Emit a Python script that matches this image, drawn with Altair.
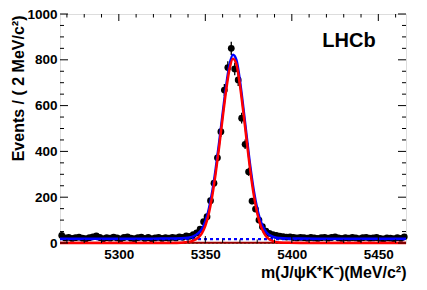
import altair as alt
import pandas as pd

# ---- data ----
bin_centers = list(range(5267, 5466, 2))  # 2 MeV bins
counts = [33, 22, 25, 20, 23, 26, 21, 19, 23, 27,
          31, 24, 19, 23, 21, 26, 22, 18, 24, 27,
          21, 19, 23, 26, 20, 24, 19, 22, 25, 20,
          23, 21, 25, 22, 27, 25, 31, 29, 36, 44,
          60, 93, 115, 185, 261, 372, 486, 668, 766, 850,
          760, 712, 545, 431, 311, 183, 148, 100, 71, 52,
          42, 36, 33, 30, 28, 26, 27, 24, 22, 25,
          23, 21, 24, 22, 20, 23, 25, 21, 24, 27,
          22, 20, 23, 21, 24, 22, 19, 23, 25, 21,
          22, 24, 20, 18, 22, 21, 19, 23, 20, 27]

sig_mass = [5266, 5320, 5330, 5336, 5340, 5343, 5346, 5348, 5350, 5352, 5354, 5356, 5358,
            5360, 5362, 5364, 5366, 5368, 5370, 5372, 5374, 5376, 5378, 5380, 5382,
            5384, 5386, 5388, 5390, 5393, 5398, 5405, 5420, 5466]
sig_val = [0, 0.1, 0.5, 1.5, 4, 10, 24, 42, 75, 128, 205, 305, 420,
           545, 665, 760, 805, 780, 690, 570, 440, 315, 210, 130, 76,
           42, 22, 12, 6, 2.5, 0.8, 0.2, 0, 0]
tot_val = [19, 19.1, 19.5, 20.5, 23, 29, 43, 61, 94, 147, 224, 324, 439,
           564, 684, 779, 822, 799, 709, 589, 459, 334, 229, 149, 95,
           61, 41, 31, 25, 21.5, 19.8, 19.2, 19, 19]

bkg_mass = [5266, 5466]
comb_bkg = [17, 17]
refl_bkg = [1.2, 1.2]
other_bkg = [0.2, 0.2]

x_major = [5300, 5350, 5400, 5450]
x_minor = [5270, 5280, 5290, 5310, 5320, 5330, 5340, 5360, 5370, 5380, 5390,
           5410, 5420, 5430, 5440, 5460]
y_major = [0, 200, 400, 600, 800, 1000]
y_minor = [50, 100, 150, 250, 300, 350, 450, 500, 550, 650, 700, 750, 850, 900, 950]

W, H = 346, 229
FONT = "Liberation Sans, Arial, Helvetica, sans-serif"

xs = alt.Scale(domain=[5266, 5466], nice=False, zero=False)
ys = alt.Scale(domain=[0, 1000], nice=False)

df = pd.DataFrame({"m": bin_centers, "n": counts})
sig = pd.DataFrame({"m": sig_mass, "v": sig_val})
tot = pd.DataFrame({"m": sig_mass, "v": tot_val})
bkg = pd.DataFrame({"m": bkg_mass, "comb": comb_bkg, "refl": refl_bkg, "oth": other_bkg})

xaxis = alt.Axis(values=x_major, format="d", ticks=False, domain=False, grid=False,
                 labelFont=FONT, labelFontSize=13.5, labelFontWeight="bold", labelColor="black",
                 labelPadding=4, title="m(J/ψK⁺K⁻)(MeV/c²)", titleFont=FONT,
                 titleFontSize=16, titleFontWeight="bold", titleColor="black",
                 titleAlign="right", titleAnchor="end", titleX=W, titleY=29,
                 titleBaseline="middle")
yaxis = alt.Axis(values=y_major, format="d", ticks=False, domain=False, grid=False,
                 labelFont=FONT, labelFontSize=13.5, labelFontWeight="bold", labelColor="black",
                 labelPadding=3, labelBaseline="middle",
                 title="Events / ( 2 MeV/c²)", titleFont=FONT,
                 titleFontSize=16, titleFontWeight="bold", titleColor="black",
                 titleAngle=270, titleAlign="right", titleX=-42, titleY=1,
                 titleBaseline="middle")

base = alt.Chart(df)
errbars = base.transform_calculate(
    lo="datum.n - sqrt(datum.n)", hi="datum.n + sqrt(datum.n)"
).mark_rule(color="black", strokeWidth=1.3).encode(
    x=alt.X("m:Q", scale=xs, axis=xaxis),
    y=alt.Y("lo:Q", scale=ys, axis=yaxis),
    y2="hi:Q",
)
points = base.mark_circle(color="black", size=46, opacity=1).encode(
    x=alt.X("m:Q", scale=xs), y=alt.Y("n:Q", scale=ys)
)

bk = alt.Chart(bkg)
comb_line = bk.mark_line(color="#0000ff", strokeWidth=2.4, strokeDash=[3, 3]).encode(
    x=alt.X("m:Q", scale=xs), y=alt.Y("comb:Q", scale=ys))
oth_line = bk.mark_line(color="#2a9d8f", strokeWidth=2, strokeDash=[2, 2]).encode(
    x=alt.X("m:Q", scale=xs), y=alt.Y("oth:Q", scale=ys))
refl_line = bk.mark_line(color="#990000", strokeWidth=2).encode(
    x=alt.X("m:Q", scale=xs), y=alt.Y("refl:Q", scale=ys))

tot_line = alt.Chart(tot).mark_line(color="#0000ff", strokeWidth=2.5, interpolate="monotone").encode(
    x=alt.X("m:Q", scale=xs), y=alt.Y("v:Q", scale=ys))
sig_line = alt.Chart(sig).mark_line(color="#ff0000", strokeWidth=2.5, interpolate="monotone").encode(
    x=alt.X("m:Q", scale=xs), y=alt.Y("v:Q", scale=ys))

def xticks(vals, length):
    d = alt.Chart(pd.DataFrame({"t": vals}))
    bot = d.mark_rule(color="black", strokeWidth=1).encode(
        x=alt.X("t:Q", scale=xs), y=alt.value(H), y2=alt.value(H - length))
    top = d.mark_rule(color="black", strokeWidth=1).encode(
        x=alt.X("t:Q", scale=xs), y=alt.value(0), y2=alt.value(length))
    return bot + top

def yticks(vals, length):
    d = alt.Chart(pd.DataFrame({"t": vals}))
    left = d.mark_rule(color="black", strokeWidth=1).encode(
        y=alt.Y("t:Q", scale=ys), x=alt.value(0), x2=alt.value(length))
    right = d.mark_rule(color="black", strokeWidth=1).encode(
        y=alt.Y("t:Q", scale=ys), x=alt.value(W), x2=alt.value(W - length))
    return left + right

label = alt.Chart(pd.DataFrame({"s": ["LHCb"]})).mark_text(
    font=FONT, fontSize=20, fontWeight="bold", color="black", align="center", baseline="middle"
).encode(text="s:N", x=alt.value(289), y=alt.value(27))

chart = alt.layer(
    errbars, points, comb_line, oth_line, refl_line, tot_line, sig_line,
    xticks(x_major, 7), xticks(x_minor, 3.5), yticks(y_major, 8), yticks(y_minor, 4), label
).properties(
    width=W, height=H,
    autosize=alt.AutoSizeParams(type="none"),
    padding={"left": 52, "top": 6, "right": 13, "bottom": 39},
).configure_view(stroke="black", strokeWidth=2).configure(background="white")

chart.save("out.html", embed_options={"renderer": "svg", "actions": False})
